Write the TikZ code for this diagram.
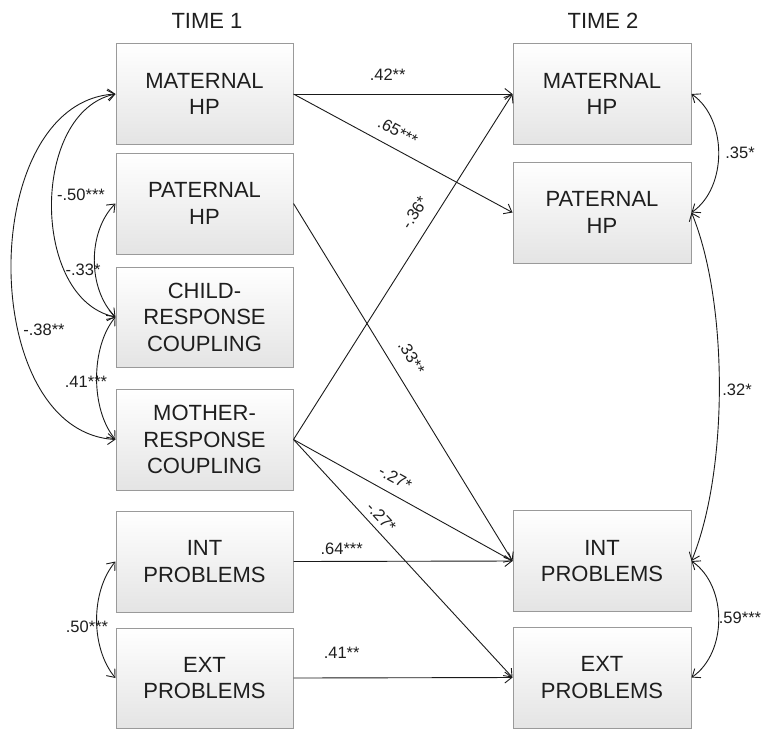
\documentclass[tikz,border=0pt]{standalone}
\usepackage{fontspec}
\setmainfont{Liberation Sans}
\usetikzlibrary{arrows.meta}
\definecolor{boxgray}{HTML}{9A9A9A}
\definecolor{boxbot}{HTML}{E4E4E4}
\definecolor{txt}{HTML}{1E1E1E}
\definecolor{linec}{HTML}{1A1A1A}
\newcommand\bxfont{\fontsize{22}{26.5}\selectfont}
\newcommand\lbfont{\fontsize{16.5}{18}\selectfont}
\tikzset{
  box/.style={draw=boxgray, line width=1pt, top color=white, bottom color=boxbot,
    minimum width=177pt, minimum height=101pt, align=center, font=\bxfont,
    text=txt, inner sep=0pt},
  ttl/.style={font=\bxfont, text=txt},
  lab/.style={font=\lbfont, text=txt, inner sep=1pt},
  tipv/.style={>={Straight Barb[length=7pt,width=11pt]}},
  reg/.style={tipv, ->, line width=0.9pt, draw=linec},
  covar/.style={tipv, <->, line width=0.9pt, draw=linec}
}
\begin{document}
\begin{tikzpicture}[x=1pt,y=-1pt]
\useasboundingbox (0,0) rectangle (770,729);
% titles
\node[ttl] (t1) at (207,21) {TIME 1};
\node[ttl] (t2) at (603,21) {TIME 2};
% left column
\node[box] (lmat) at (204.5,94) {MATERNAL\\HP};
\node[box] (lpat) at (204.5,203.5) {PATERNAL\\HP};
\node[box, minimum height=100pt] (lchild) at (204.5,317) {CHILD-\\RESPONSE\\COUPLING};
\node[box] (lmoth) at (204.5,439.5) {MOTHER-\\RESPONSE\\COUPLING};
\node[box] (lint) at (204.5,561.5) {INT\\PROBLEMS};
\node[box, minimum height=100pt] (lext) at (204.5,678) {EXT\\PROBLEMS};
% right column
\node[box, minimum width=178pt] (rmat) at (602,94) {MATERNAL\\HP};
\node[box, minimum width=178pt] (rpat) at (602,212.5) {PATERNAL\\HP};
\node[box, minimum width=178pt] (rint) at (602,561) {INT\\PROBLEMS};
\node[box, minimum width=178pt] (rext) at (602,677.5) {EXT\\PROBLEMS};
% directed paths
\draw[reg] (lmat.east) -- (rmat.west) node[lab, pos=0.43, above=12pt] (p42) {.42**};
\draw[reg] (lmat.east) -- (rpat.west) node[lab, pos=0.44, sloped, above=9.5pt] (p65) {.65***};
\draw[reg] (lpat.east) -- (rint.west) node[lab, pos=0.46, sloped, above=13pt] (p33) {.33**};
\draw[reg] (lmoth.east) -- (rmat.west) node[lab, pos=0.627, sloped, above=12pt] (p36) {-.36*};
\draw[reg] (lmoth.east) -- (rint.west) node[lab, pos=0.43, sloped, above=8.5pt] (p27a) {-.27*};
\draw[reg] (lmoth.east) -- (rext.west) node[lab, pos=0.36, sloped, above=5pt] (p27b) {-.27*};
\draw[reg] (lint.east) -- (rint.west) node[lab, pos=0.22, above=5.5pt] (p64) {.64***};
\draw[reg] (lext.east) -- (rext.west) node[lab, pos=0.22, above=18pt] (p41) {.41**};
% covariances, left
\draw[covar] (lmat.west) .. controls +(-85,18) and +(-85,-18) .. (lchild.west);
\draw[covar] (lmat.west) .. controls +(-139,8) and +(-139,-8) .. (lmoth.west);
\draw[covar] (lpat.west) .. controls +(-28,28) and +(-28,-28) .. (lchild.west);
\draw[covar] (lchild.west) .. controls +(-25,30) and +(-25,-30) .. (lmoth.west);
\draw[covar] (lint.west) .. controls +(-25,30) and +(-25,-30) .. (lext.west);
% covariances, right
\draw[covar] (rmat.east) .. controls +(36,25) and +(36,-25) .. (rpat.east);
\draw[covar] (rpat.east) .. controls +(37,90) and +(37,-90) .. (rint.east);
\draw[covar] (rint.east) .. controls +(36,25) and +(36,-25) .. (rext.east);
% covariance labels
\node[lab] (c50) at (81,195) {-.50***};
\node[lab] (c33) at (83,270) {-.33*};
\node[lab] (c38) at (44,330) {-.38**};
\node[lab] (c41) at (86,382) {.41***};
\node[lab] (c50b) at (87,627) {.50***};
\node[lab] (c35) at (740,153) {.35*};
\node[lab] (c32) at (737,390) {.32*};
\node[lab] (c59) at (740,618) {.59***};
\end{tikzpicture}
\end{document}
